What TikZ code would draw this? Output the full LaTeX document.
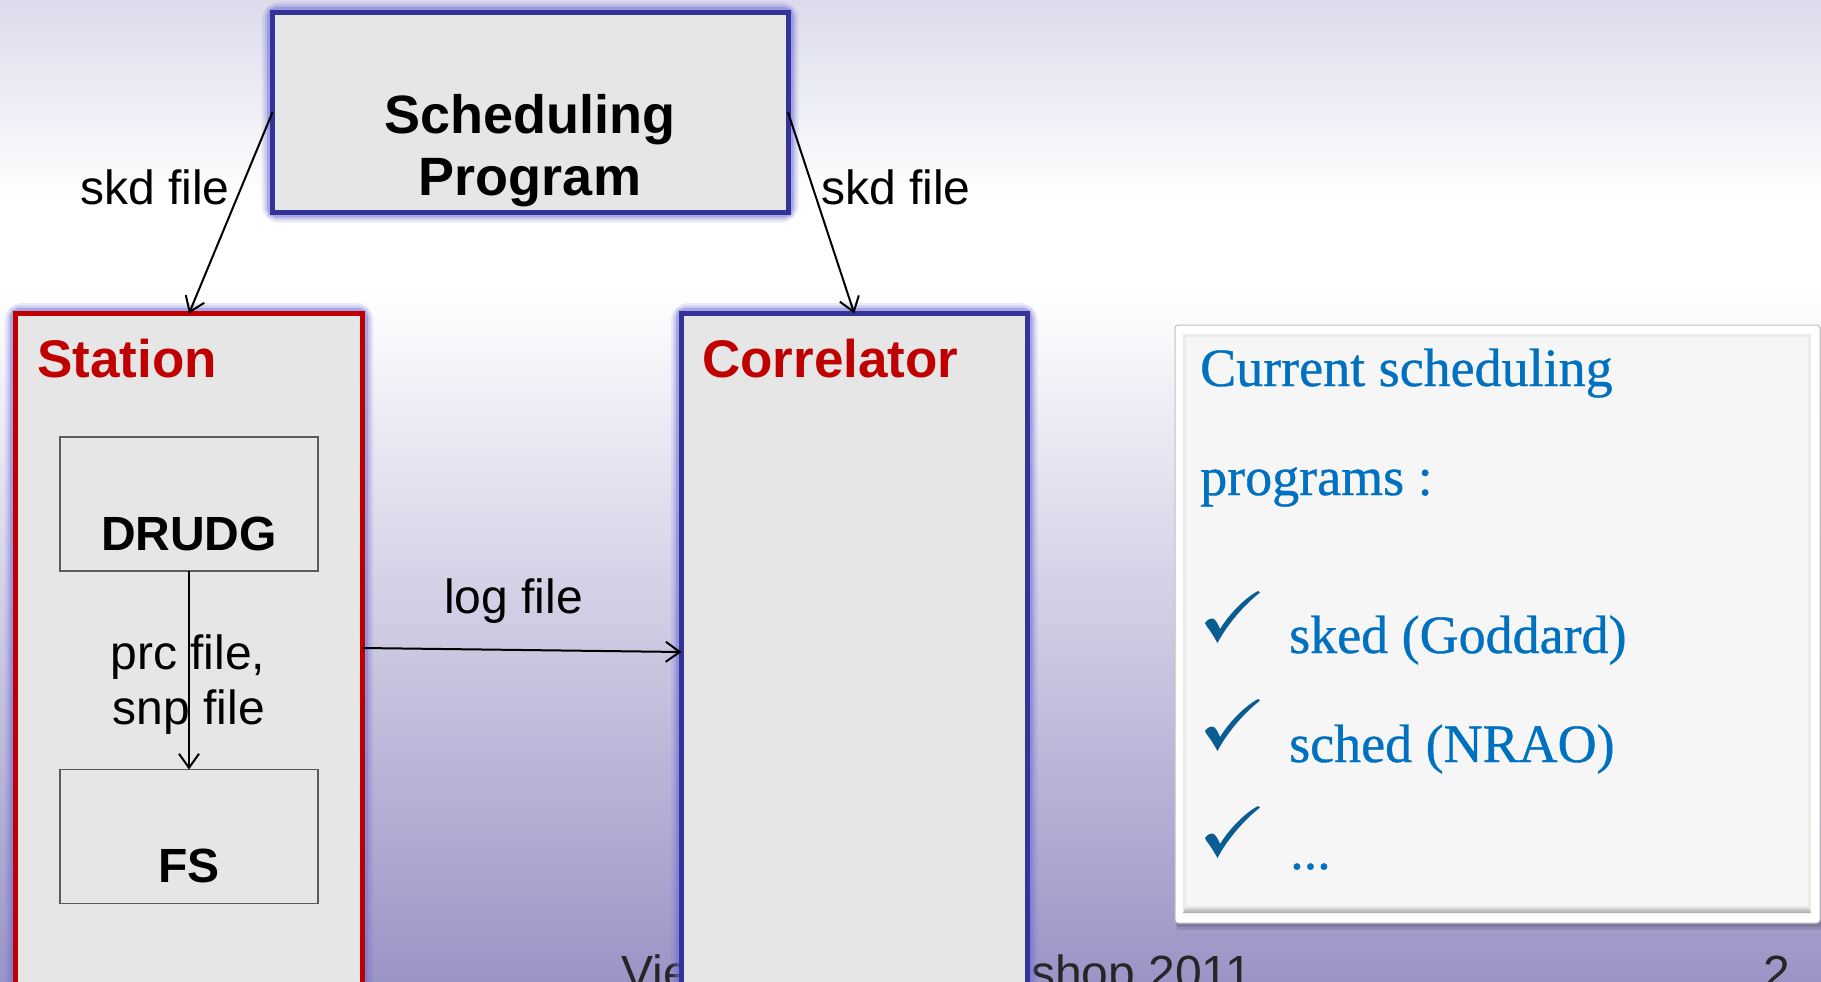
\documentclass[tikz,border=0pt]{standalone}
\usepackage{fontspec}
\setmainfont{Liberation Sans}
\newfontfamily\blueserif[FakeBold=0.7]{Liberation Serif}
\usetikzlibrary{arrows.meta}
\definecolor{bgtop}{RGB}{220,219,236}
\definecolor{bgbot}{RGB}{155,148,198}
\definecolor{boxfill}{RGB}{230,230,230}
\definecolor{bordblue}{RGB}{51,51,153}
\definecolor{bordred}{RGB}{192,0,0}
\definecolor{glowc}{RGB}{110,110,215}
\definecolor{txtblue}{RGB}{0,112,192}
\definecolor{chkblue}{RGB}{10,93,146}
\definecolor{listfill}{RGB}{246,246,246}
\definecolor{thinbord}{RGB}{90,90,90}
\newcommand\glowrect[2]{%
  \draw[glowc, line width=21pt, opacity=0.14, rounded corners=7pt] #1 rectangle #2;
  \draw[glowc, line width=16pt, opacity=0.22, rounded corners=5pt] #1 rectangle #2;
  \draw[glowc, line width=11pt, opacity=0.40, rounded corners=4pt] #1 rectangle #2;}
\newcommand\checkmk[1]{%
  \fill[chkblue, shift={#1}] (0,32) .. controls (3,28) and (6,27) .. (8,27.5)
    .. controls (11,29) and (13,33) .. (15,38)
    .. controls (25,22) and (40,7) .. (53,0) -- (55,1.5)
    .. controls (38,15) and (22,34) .. (12.5,52)
    .. controls (9,46) and (5,39) .. (1.5,35) -- cycle;}
\begin{document}
\begin{tikzpicture}[x=1pt,y=-1pt,
  bigbox/.style={draw=bordblue, line width=5pt, fill=boxfill, inner sep=0pt, outer sep=0pt},
  redbox/.style={bigbox, draw=bordred},
  smallbox/.style={draw=thinbord, line width=1.3pt, fill=boxfill, inner sep=0pt, outer sep=0pt,
    minimum width=258pt, minimum height=134pt},
  conn/.style={line width=2pt, -{Straight Barb[length=14pt,width=20pt,line width=2pt]}},
  lbl/.style={inner sep=0pt, font=\fontsize{48}{56}\selectfont},
  boldlbl/.style={inner sep=0pt, font=\fontsize{48}{56}\selectfont\bfseries},
  titlelbl/.style={inner sep=0pt, font=\fontsize{53}{62}\selectfont\bfseries, text=bordred},
  listtxt/.style={inner sep=0pt, font=\fontsize{54}{62}\selectfont\blueserif, text=txtblue},
  foot/.style={inner sep=0pt, font=\fontsize{48}{56}\selectfont, text=black!85}]
\useasboundingbox (0,0) rectangle (1821,982);
% background
\shade[top color=bgtop, bottom color=white] (0,0) rectangle (1821,200);
\fill[white] (0,199) rectangle (1821,291);
\shade[top color=white, bottom color=bgbot] (0,290) rectangle (1821,982);
% footer (partly hidden by the correlator box)
\node[foot, anchor=base west] (footA) at (621,989) {Vie};
\node[foot, anchor=base east] (footB) at (1252,989) {shop 2011};
\node[foot, anchor=base west] (footC) at (1763,989) {2};
% glows
\glowrect{(272.5,12.5)}{(788,212)}
\glowrect{(15.5,313.5)}{(362.5,1000)}
\glowrect{(681.5,313.5)}{(1027,1000)}
% main boxes
\node[bigbox, minimum width=515.5pt, minimum height=199.5pt] (sched) at (530.25,112.25) {};
\node[redbox, minimum width=347pt, minimum height=686.5pt] (station) at (189,656.75) {};
\node[bigbox, minimum width=345.5pt, minimum height=686.5pt] (corr) at (854.25,656.75) {};
\node[smallbox] (drudg) at (189,504) {};
\node[smallbox] (fs) at (189,836.5) {};
% texts in boxes
\node[boldlbl, font=\fontsize{54}{63}\selectfont\bfseries, anchor=base] (schedA) at (530,133) {Scheduling};
\node[boldlbl, font=\fontsize{54}{63}\selectfont\bfseries, anchor=base] (schedB) at (530,195) {Program};
\node[titlelbl, anchor=base west] (stationT) at (37,377) {Station};
\node[titlelbl, anchor=base west] (corrT) at (702,377) {Correlator};
\node[boldlbl, anchor=base] (drudgT) at (189,550) {DRUDG};
\node[boldlbl, anchor=base] (fsT) at (189,882) {FS};
% connectors
\draw[conn] (sched.west) -- (station.north);
\draw[conn] (sched.east) -- (corr.north);
\draw[conn] ([yshift=8.75pt]station.east) -- ([yshift=4.75pt]corr.west);
\draw[conn] (drudg.south) -- (fs.north);
% connector labels
\node[lbl, anchor=base west] (skdL) at (80,204) {skd file};
\node[lbl, anchor=base west] (skdR) at (821,204) {skd file};
\node[lbl, anchor=base west] (logL) at (444,613) {log file};
\node[lbl, anchor=base] (prcL) at (188,669) {prc file,};
\node[lbl, anchor=base] (snpL) at (189,724) {snp file};
% list box
\fill[black, opacity=0.10] (1177,329) rectangle (1823,930);
\fill[black, opacity=0.12] (1176,327) rectangle (1822,927);
\node[draw=black!25, line width=1pt, fill=white, rounded corners=3pt, inner sep=0pt, outer sep=0pt,
  minimum width=645pt, minimum height=598pt] (list) at (1497.5,624) {};
\fill[black!8] (1183,334) rectangle (1811,913);
\fill[listfill] (1186,337) rectangle (1808,905);
\shade[top color=listfill, bottom color=black!35] (1186,905) -- (1808,905) -- (1811,913) -- (1183,913) -- cycle;
\node[listtxt, anchor=base west] (l1) at (1200,386) {Current scheduling};
\node[listtxt, anchor=base west] (l2) at (1200,495) {programs :};
\checkmk{(1205,591)}
\checkmk{(1205,699)}
\checkmk{(1205,806)}
\node[listtxt, anchor=base west] (l3) at (1289,653) {sked (Goddard)};
\node[listtxt, anchor=base west] (l4) at (1289,762) {sched (NRAO)};
\node[listtxt, anchor=base west] (l5) at (1290,869) {...};
\end{tikzpicture}
\end{document}
